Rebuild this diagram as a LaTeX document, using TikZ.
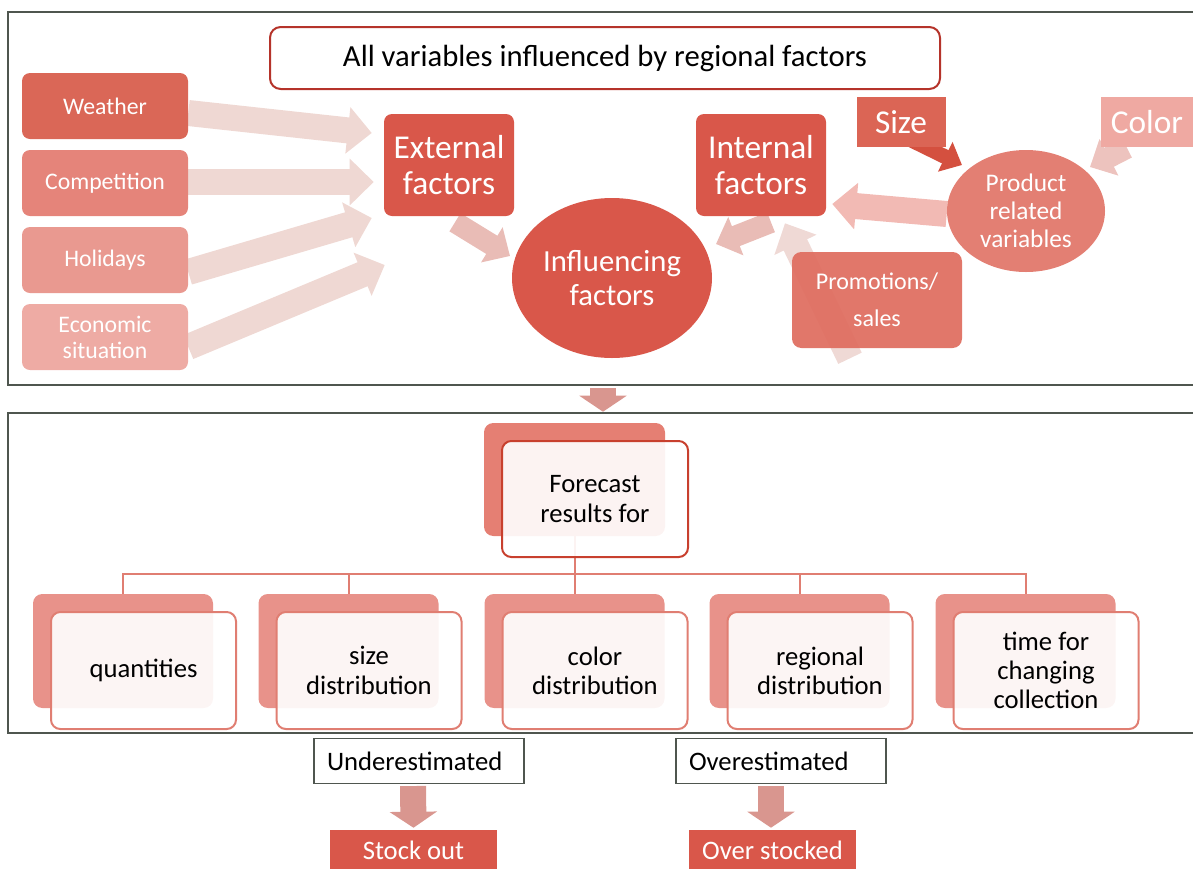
\documentclass[tikz,border=0pt]{standalone}
\usepackage{fontspec}
\setmainfont{Carlito}
\usetikzlibrary{arrows.meta,calc,shapes.geometric}
\pgfdeclarelayer{bg}
\pgfsetlayers{bg,main}
\definecolor{frame}{HTML}{4F564F}
\definecolor{titleb}{HTML}{B5332A}
\definecolor{dred}{HTML}{D9574A}
\definecolor{cweather}{HTML}{DA6757}
\definecolor{ccomp}{HTML}{E5847A}
\definecolor{choli}{HTML}{E99990}
\definecolor{ceco}{HTML}{EEABA4}
\definecolor{csize}{HTML}{DB6555}
\definecolor{ccolor}{HTML}{EFA9A2}
\definecolor{cprod}{HTML}{E37F73}
\definecolor{cpromo}{HTML}{DF6D5F}
\definecolor{aleft}{HTML}{EFD8D3}
\definecolor{amid}{HTML}{E9BCB6}
\definecolor{aprod}{HTML}{F2BAB4}
\definecolor{asize}{HTML}{D4503F}
\definecolor{acolor}{HTML}{EDC3BE}
\definecolor{apromo}{HTML}{EFD9D5}
\definecolor{adown}{HTML}{D9968F}
\definecolor{fback}{HTML}{E57F73}
\definecolor{fborder}{HTML}{C8402E}
\definecolor{cback}{HTML}{E8928A}
\definecolor{cborder}{HTML}{E07E72}
\tikzset{
  sz/.style 2 args={minimum width=#1*0.75pt, minimum height=#2*0.75pt},
  base/.style={rectangle, inner sep=0pt, align=center},
  lbox/.style={base, rounded corners=6pt, text=white, font=\fontsize{17.8}{19.5}\selectfont, sz={166}{66}},
  fbox/.style={base, rounded corners=6pt, fill=dred, text=white, font=\fontsize{25}{27}\selectfont, sz={130}{102}},
  backbox/.style={base, rounded corners=7pt},
  frontbox/.style={base, rounded corners=7pt, fill=white, fill opacity=0.91, text opacity=1, line width=1.5pt, font=\fontsize{20}{22}\selectfont, text=black},
  estbox/.style={base, draw=frame, line width=0.8pt, fill=white, sz={210}{45}, text width=138pt, align=left, font=\fontsize{20}{22}\selectfont},
  resbox/.style={base, fill=dred, text=white, sz={167}{40}, font=\fontsize{20}{22}\selectfont},
  big/.style={line width=19.5pt, -{Triangle[length=18pt, width=34pt]}},
  mid/.style={line width=16pt, -{Triangle[length=16pt, width=30pt]}},
  sml/.style={line width=11pt, -{Triangle[length=14pt, width=24pt]}},
  down/.style={adown, line width=19.5pt, -{Triangle[length=12pt, width=35pt]}},
  tree/.style={cborder, line width=1.5pt},
}
\begin{document}
\begin{tikzpicture}[x=0.75pt,y=-0.75pt]
\useasboundingbox (0,0) rectangle (1193,868);
\clip (0,0) rectangle (1193,868);

% ---------- top panel ----------
\node[base, draw=titleb, line width=1.5pt, fill=white, rounded corners=8pt, sz={670}{62}, font=\fontsize{23}{25}\selectfont] (title) at (605,58) {All variables influenced by regional factors};

\node[lbox, fill=cweather] (weather) at (105,106) {Weather};
\node[lbox, fill=ccomp] (comp) at (105,183) {Competition};
\node[lbox, fill=choli] (holi) at (105,260) {Holidays};
\node[lbox, fill=ceco] (eco) at (105,337) {Economic\\situation};

\node[fbox] (ext) at (449,165) {External\\factors};
\node[fbox] (int) at (761,165) {Internal\\factors};
\node[ellipse, inner sep=0pt, fill=dred, text=white, align=center, sz={200}{160}, font=\fontsize{23}{25}\selectfont] (infl) at (612,278) {Influencing\\factors};

\node[base, fill=csize, text=white, sz={89}{50}, font=\fontsize{25}{27}\selectfont] (size) at (901,122) {Size};
\node[base, fill=ccolor, text=white, sz={92}{50}, font=\fontsize{25}{27}\selectfont] (color) at (1147,122) {Color};
\node[ellipse, inner sep=0pt, fill=cprod, text=white, align=center, sz={158}{122}, font=\fontsize{19}{21}\selectfont] (prod) at (1026,211) {Product\\related\\variables};
\node[base, rounded corners=7pt, fill=cpromo, fill opacity=0.93, text opacity=1, text=white, sz={170}{96}, font=\fontsize{18}{28}\selectfont] (promo) at (877,300) {Promotions/\\sales};

% ---------- bottom panel ----------
\node[backbox, fill=fback, sz={181}{113}] (fcb) at (574.5,479.5) {};
\node[backbox, fill=cback, sz={180}{114}] (c1b) at (123,651) {};
\node[backbox, fill=cback, sz={180}{114}] (c2b) at (348.5,651) {};
\node[backbox, fill=cback, sz={180}{114}] (c3b) at (574.5,651) {};
\node[backbox, fill=cback, sz={180}{114}] (c4b) at (799.5,651) {};
\node[backbox, fill=cback, sz={180}{114}] (c5b) at (1025.5,651) {};

\draw[tree] (fcb.south) -- ++(0,38) coordinate (hub);
\draw[tree] (hub) -| (c1b.north);
\draw[tree] (hub) -| (c2b.north);
\draw[tree] (hub) -- (c3b.north);
\draw[tree] (hub) -| (c4b.north);
\draw[tree] (hub) -| (c5b.north);

\node[frontbox, draw=fborder, sz={186}{116}] (fc) at (595,499) {Forecast\\results for};
\node[frontbox, draw=cborder, sz={185}{117}] (c1) at (143.5,670.5) {quantities};
\node[frontbox, draw=cborder, sz={185}{117}] (c2) at (369,670.5) {size\\distribution};
\node[frontbox, draw=cborder, sz={185}{117}] (c3) at (595,670.5) {color\\distribution};
\node[frontbox, draw=cborder, sz={185}{117}] (c4) at (820,670.5) {regional\\distribution};
\node[frontbox, draw=cborder, sz={185}{117}] (c5) at (1046,670.5) {time for\\changing\\collection};

\node[estbox] (under) at (419,761) {Underestimated};
\node[estbox] (over) at (781,761) {Overestimated};
\node[resbox] (stock) at (413.5,850) {Stock out};
\node[resbox] (overs) at (772.5,850) {Over stocked};

% ---------- background: frames and block arrows ----------
\begin{pgfonlayer}{bg}
\draw[frame, line width=1.1pt] (8,12) rectangle (1205,385);
\draw[frame, line width=1.1pt] (8,413) rectangle (1205,733);

\draw[aleft, big] ($(weather.east)+(0,7)$) -- ($(ext.west)+(-12,-32)$);
\draw[aleft, big] ($(comp.east)+(0,-1)$) -- ($(ext.west)+(-10,17)$);
\draw[aleft, big] ($(holi.east)+(0,12)$) -- ($(ext.west)+(-12,53)$);
\draw[aleft, big] ($(eco.east)+(0,10)$) -- ($(ext.west)+(1,100)$);

\draw[amid, mid] ($(ext.south)+(6,6)$) -- ($(infl.center)+(-102,-22)$);
\draw[amid, mid] ($(int.south)+(10,6)$) -- ($(infl.center)+(104,-34)$);
\draw[aprod, big] ($(prod.west)+(0,3)$) -- ($(int.east)+(6,39)$);
\draw[asize, sml] ($(size.center)+(10,18)$) -- ($(prod.center)+(-64,-46)$);
\draw[acolor, mid] ($(color.center)+(-20,26)$) -- ($(prod.center)+(64,-44)$);
\draw[apromo, big] ($(promo.south)+(-27,10)$) -- ($(int.south)+(24,7)$);

\draw[down] ($(infl.south)+(-9,30)$) -- ($(fcb.north)+(28.5,-11)$);
\draw[down] ($(under.south)+(-6,2)$) -- ($(stock.north)+(0,-2)$);
\draw[down] ($(over.south)+(-10,2)$) -- ($(overs.north)+(-1.5,-2)$);
\end{pgfonlayer}
\end{tikzpicture}
\end{document}
